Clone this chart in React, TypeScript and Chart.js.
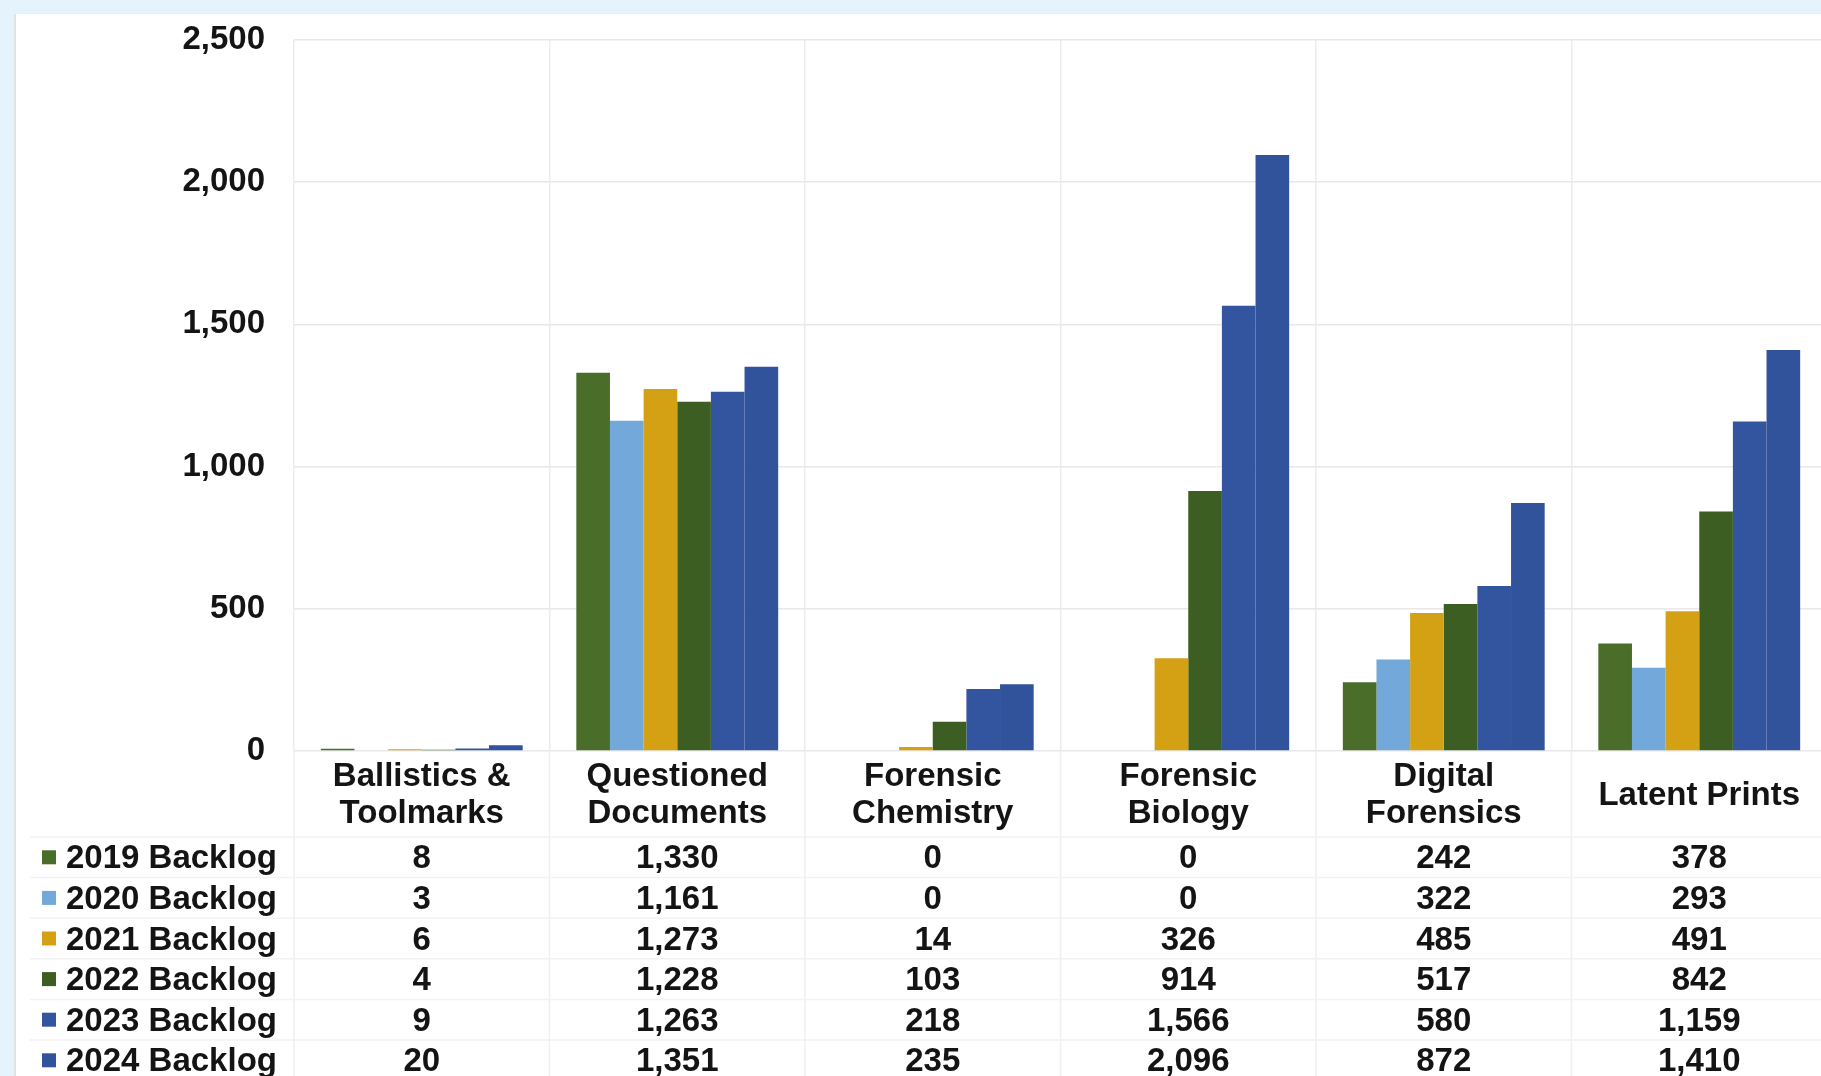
import React, { useEffect, useRef } from "react";
import { Chart, registerables } from "chart.js";

Chart.register(...registerables);

const categories: string[][] = [
  ["Ballistics &", "Toolmarks"],
  ["Questioned", "Documents"],
  ["Forensic", "Chemistry"],
  ["Forensic", "Biology"],
  ["Digital", "Forensics"],
  ["Latent Prints"],
];

const seriesNames = [
  "2019 Backlog",
  "2020 Backlog",
  "2021 Backlog",
  "2022 Backlog",
  "2023 Backlog",
  "2024 Backlog",
];

const backlog2019 = [8, 1330, 0, 0, 242, 378];
const backlog2020 = [3, 1161, 0, 0, 322, 293];
const backlog2021 = [6, 1273, 14, 326, 485, 491];
const backlog2022 = [4, 1228, 103, 914, 517, 842];
const backlog2023 = [9, 1263, 218, 1566, 580, 1159];
const backlog2024 = [20, 1351, 235, 2096, 872, 1410];

const seriesValues = [backlog2019, backlog2020, backlog2021, backlog2022, backlog2023, backlog2024];
const seriesColors = ["#4a6d2a", "#72a8da", "#d5a114", "#3d5e22", "#33549e", "#30539c"];

const yTicks = [0, 500, 1000, 1500, 2000, 2500];

const FONT = "'Liberation Sans', Arial, sans-serif";
const TEXT = "#141414";

const W = 1832;
const H = 1076;

export default function App() {
  const ref = useRef<HTMLCanvasElement | null>(null);

  useEffect(() => {
    document.body.style.margin = "0";
    const canvas = ref.current;
    if (!canvas) return;

    const tablePlugin = {
      id: "dataTable",
      afterDraw(chart: any) {
        const ctx = chart.ctx;
        const x = chart.scales.x;
        const area = chart.chartArea;
        const n = categories.length;
        const step = (area.right - area.left) / n;
        ctx.save();
        // vertical column lines through table
        ctx.strokeStyle = "#efefef";
        ctx.lineWidth = 1.5;
        for (let i = 0; i <= n; i++) {
          const px = area.left + i * step;
          ctx.beginPath();
          ctx.moveTo(px, area.bottom);
          ctx.lineTo(px, H);
          ctx.stroke();
        }
        // horizontal row lines
        const rowTop = 837;
        const rowH = 40.6;
        ctx.strokeStyle = "#f2f2f2";
        for (let r = 0; r < seriesNames.length; r++) {
          const y = rowTop + r * rowH;
          ctx.beginPath();
          ctx.moveTo(30, y);
          ctx.lineTo(W, y);
          ctx.stroke();
        }
        // category labels
        ctx.fillStyle = TEXT;
        ctx.font = `bold 33px ${FONT}`;
        ctx.textAlign = "center";
        ctx.textBaseline = "middle";
        categories.forEach((lines, i) => {
          const cx = x.getPixelForValue(i);
          if (lines.length === 1) {
            ctx.fillText(lines[0], cx, 796);
          } else {
            ctx.fillText(lines[0], cx, 777);
            ctx.fillText(lines[1], cx, 814);
          }
        });
        // rows
        seriesNames.forEach((name, r) => {
          const cy = rowTop + r * rowH + rowH / 2;
          ctx.fillStyle = seriesColors[r];
          ctx.fillRect(42, cy - 7, 14, 14);
          ctx.fillStyle = TEXT;
          ctx.textAlign = "left";
          ctx.fillText(name, 66, cy + 2);
          ctx.textAlign = "center";
          seriesValues[r].forEach((v, i) => {
            ctx.fillText(v.toLocaleString("en-US"), x.getPixelForValue(i), cy + 2);
          });
        });
        ctx.restore();
      },
    };

    const chart = new Chart(canvas, {
      type: "bar",
      data: {
        labels: categories.map((c) => c.join(" ")),
        datasets: seriesNames.map((name, i) => ({
          label: name,
          data: seriesValues[i],
          backgroundColor: seriesColors[i],
          borderWidth: 0,
          barPercentage: 1.0,
          categoryPercentage: 0.79,
        })),
      },
      options: {
        responsive: false,
        animation: false,
        layout: { padding: { left: 0, right: 5, top: 40, bottom: 0 } },
        plugins: {
          legend: { display: false },
          tooltip: { enabled: false },
          title: { display: false },
        },
        scales: {
          x: {
            grid: { display: true, color: "#ececec", lineWidth: 1.5, drawTicks: false, offset: true },
            border: { display: false },
            ticks: { display: false },
            afterFit: (scale: any) => {
              scale.height = H - 751;
            },
          },
          y: {
            min: 0,
            max: 2500,
            afterBuildTicks: (scale: any) => {
              scale.ticks = yTicks.map((v) => ({ value: v }));
            },
            grid: {
              color: "#e8e8e8",
              lineWidth: 1.5,
              drawTicks: true,
              tickLength: 29,
              tickColor: "rgba(0,0,0,0)",
            },
            border: { display: false },
            ticks: {
              padding: 0,
              color: TEXT,
              font: { family: FONT, size: 33, weight: "bold" },
              callback: (v: any) => Number(v).toLocaleString("en-US"),
            },
            afterFit: (scale: any) => {
              scale.width = 294;
            },
          },
        },
      },
      plugins: [tablePlugin],
    });

    return () => chart.destroy();
  }, []);

  return (
    <div
      style={{
        position: "fixed",
        left: 0,
        top: 0,
        width: 1821,
        height: 1076,
        overflow: "hidden",
        background: "#e5f4fc",
      }}
    >
      <div
        style={{
          position: "absolute",
          left: 14,
          top: 14,
          width: 1821,
          height: 1076,
          background: "#ffffff",
          borderLeft: "2px solid #e2e2e2",
          boxSizing: "border-box",
        }}
      />
      <canvas
        ref={ref}
        width={W}
        height={H}
        style={{ position: "absolute", left: 0, top: 0, width: W, height: H }}
      />
    </div>
  );
}
